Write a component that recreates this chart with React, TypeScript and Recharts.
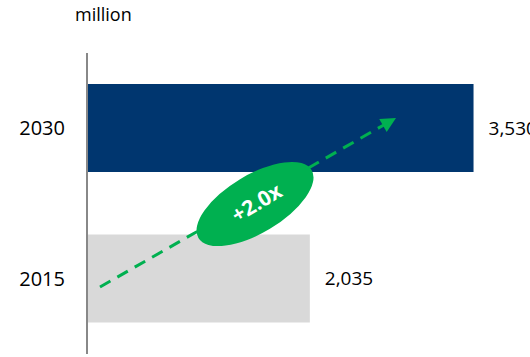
import React from 'react';
import { BarChart, Bar, XAxis, YAxis, Cell, LabelList } from 'recharts';

// categories top to bottom, values in million
const years = ['2030', '2015'];
const values = [3530, 2035];
const growthLabel = '+2.0x';
const unitLabel = 'million';

const FONT = '"Open Sans", "Noto Sans", sans-serif';
const NAVY = '#00366F';
const GREY = '#D9D9D9';
const GREEN = '#00B050';
const barColors = [NAVY, GREY];

const chartData = years.map((year, i) => ({ year, value: values[i] }));

const fmt = (v: any) => Number(v).toLocaleString('en-US');

// annotation layer: unit title, dashed growth arrow and the "+2.0x" bubble
const Overlay = () => {
  const tip = { x: 396, y: 118 };
  const angle = -29.7;
  const rad = (angle * Math.PI) / 180;
  const lineEnd = { x: tip.x - 13 * Math.cos(rad), y: tip.y - 13 * Math.sin(rad) };
  return (
    <svg
      width={530}
      height={357}
      style={{ position: 'absolute', left: 0, top: 0, pointerEvents: 'none' }}
    >
      <text x={75} y={21} fontSize={18} fontFamily={FONT} fill="#000">
        {unitLabel}
      </text>
      <line
        x1={100}
        y1={287}
        x2={lineEnd.x}
        y2={lineEnd.y}
        stroke={GREEN}
        strokeWidth={3}
        strokeDasharray="12 8"
      />
      <g transform={`translate(${tip.x},${tip.y}) rotate(${angle})`}>
        <polygon points="0,0 -15,-7.5 -15,7.5" fill={GREEN} />
      </g>
      <g transform="translate(255,204) rotate(-31)">
        <ellipse cx={0} cy={0} rx={66} ry={29} fill={GREEN} />
        <text
          x={2}
          y={0}
          dy="0.35em"
          textAnchor="middle"
          fontSize={21}
          fontWeight="bold"
          fontFamily={FONT}
          fill="#fff"
        >
          {growthLabel}
        </text>
      </g>
    </svg>
  );
};

export default function App() {
  return (
    <div style={{ position: 'absolute', left: 0, top: 0, width: 530, height: 357, background: '#fff' }}>
      <BarChart
        width={530}
        height={357}
        data={chartData}
        layout="vertical"
        margin={{ top: 53, right: 5, bottom: 3, left: 0 }}
        barSize={88}
      >
        <XAxis type="number" domain={[0, 4000]} hide />
        <YAxis
          type="category"
          dataKey="year"
          width={87}
          axisLine={{ stroke: '#888888', strokeWidth: 2 }}
          tickLine={false}
          tickSize={0}
          tickMargin={22}
          tick={{ fontSize: 20, fill: '#000', fontFamily: FONT }}
        />
        <Bar dataKey="value" isAnimationActive={false}>
          {chartData.map((d, i) => (
            <Cell key={d.year} fill={barColors[i]} />
          ))}
          <LabelList
            dataKey="value"
            position="right"
            offset={15}
            formatter={fmt}
            fill="#000"
            fontSize={19}
            fontFamily={FONT}
          />
        </Bar>
      </BarChart>
      <Overlay />
    </div>
  );
}
